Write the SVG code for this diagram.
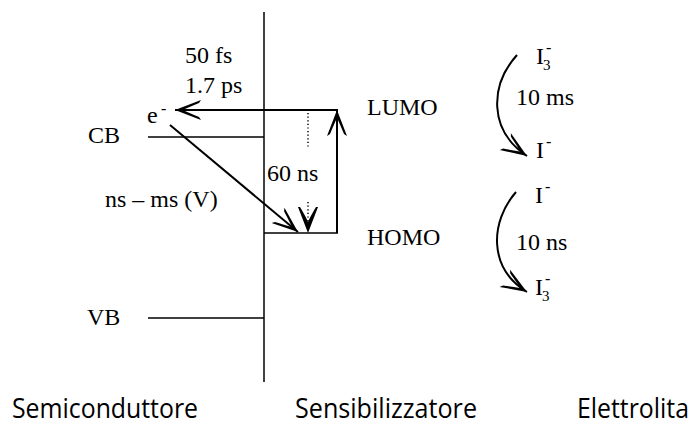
<svg xmlns="http://www.w3.org/2000/svg" width="698" height="426" viewBox="0 0 698 426">
<style>
.ln{stroke:#000;stroke-width:1.5;fill:none}
.ar{stroke:#000;stroke-width:2;fill:none}
.dot{stroke:#000;stroke-width:1.5;stroke-dasharray:1.2,2.4;fill:none}
.s{font-family:"Liberation Serif","Times New Roman",serif;font-size:24px;fill:#000}
.sup{font-family:"Liberation Serif","Times New Roman",serif;font-size:16px;fill:#000}
.sub{font-family:"Liberation Serif","Times New Roman",serif;font-size:15px;fill:#000}
.b{font-family:"Open Sans","Noto Sans",sans-serif;font-size:27px;fill:#000}
</style>
<defs>
<marker id="ah" markerUnits="userSpaceOnUse" markerWidth="30" markerHeight="24" viewBox="-28 -12 30 24" refX="0" refY="0" orient="auto">
<path d="M0,0 L-26,-10 L-24,-7 Q-12,-2 -8,0 Q-12,2 -24,7 L-26,10 Z" fill="#000"/>
</marker>
</defs>
<g id="axis">
<line class="ln" x1="264" y1="12" x2="264" y2="382"/>
</g>
<g id="CB">
<line class="ln" x1="148" y1="137" x2="264" y2="137"/>
<text class="s" x="88" y="143">CB</text>
</g>
<g id="VB">
<line class="ln" x1="148" y1="318" x2="264" y2="318"/>
<text class="s" x="87" y="325">VB</text>
</g>
<g id="LUMO">
<text class="s" x="367" y="115">LUMO</text>
</g>
<g id="HOMO">
<line class="ln" x1="264" y1="233" x2="338" y2="233"/>
<text class="s" x="367" y="245">HOMO</text>
</g>
<g id="electron">
<text class="s" x="147" y="123">e</text>
<text class="sup" x="161" y="114">-</text>
</g>
<g id="connectors">
<path class="ar" d="M338,110 L175,110" marker-end="url(#ah)"/>
<path class="ar" d="M337,233 L337,110" marker-end="url(#ah)"/>
<path class="ar" d="M170,125 L298,232" marker-end="url(#ah)"/>
<line class="dot" x1="308" y1="113" x2="308" y2="148"/>
<path class="dot" d="M308,202 L308,230"/>
<path d="M308,233 L298,207 L300,207 Q306,217 308,222 Q310,217 316,207 L318,207 Z" fill="#000"/>
<path class="ar" d="M517,55 C490,85 488,130 527,156" marker-end="url(#ah)"/>
<path class="ar" d="M516,192 C490,222 488,268 527,292" marker-end="url(#ah)"/>
</g>
<g id="labels">
<text class="s" x="185" y="63">50 fs</text>
<text class="s" x="185" y="93">1.7 ps</text>
<text class="s" x="105" y="207">ns – ms (V)</text>
<text class="s" x="267" y="181">60 ns</text>
<text class="s" x="516" y="105">10 ms</text>
<text class="s" x="516" y="250">10 ns</text>
</g>
<g id="I3top">
<text class="s" x="536" y="64">I</text>
<text class="sub" x="543" y="70">3</text>
<text class="sup" x="546" y="53">-</text>
</g>
<g id="Iminus1">
<text class="s" x="536" y="158">I</text>
<text class="sup" x="546" y="147">-</text>
</g>
<g id="Iminus2">
<text class="s" x="535" y="203">I</text>
<text class="sup" x="545" y="192">-</text>
</g>
<g id="I3bottom">
<text class="s" x="535" y="295">I</text>
<text class="sub" x="542" y="301">3</text>
<text class="sup" x="545" y="284">-</text>
</g>
<g id="headers">
<text class="b" x="12" y="418" textLength="186" lengthAdjust="spacingAndGlyphs">Semiconduttore</text>
<text class="b" x="295" y="418" textLength="182" lengthAdjust="spacingAndGlyphs">Sensibilizzatore</text>
<text class="b" x="577" y="418" textLength="112" lengthAdjust="spacingAndGlyphs">Elettrolita</text>
</g>
</svg>
